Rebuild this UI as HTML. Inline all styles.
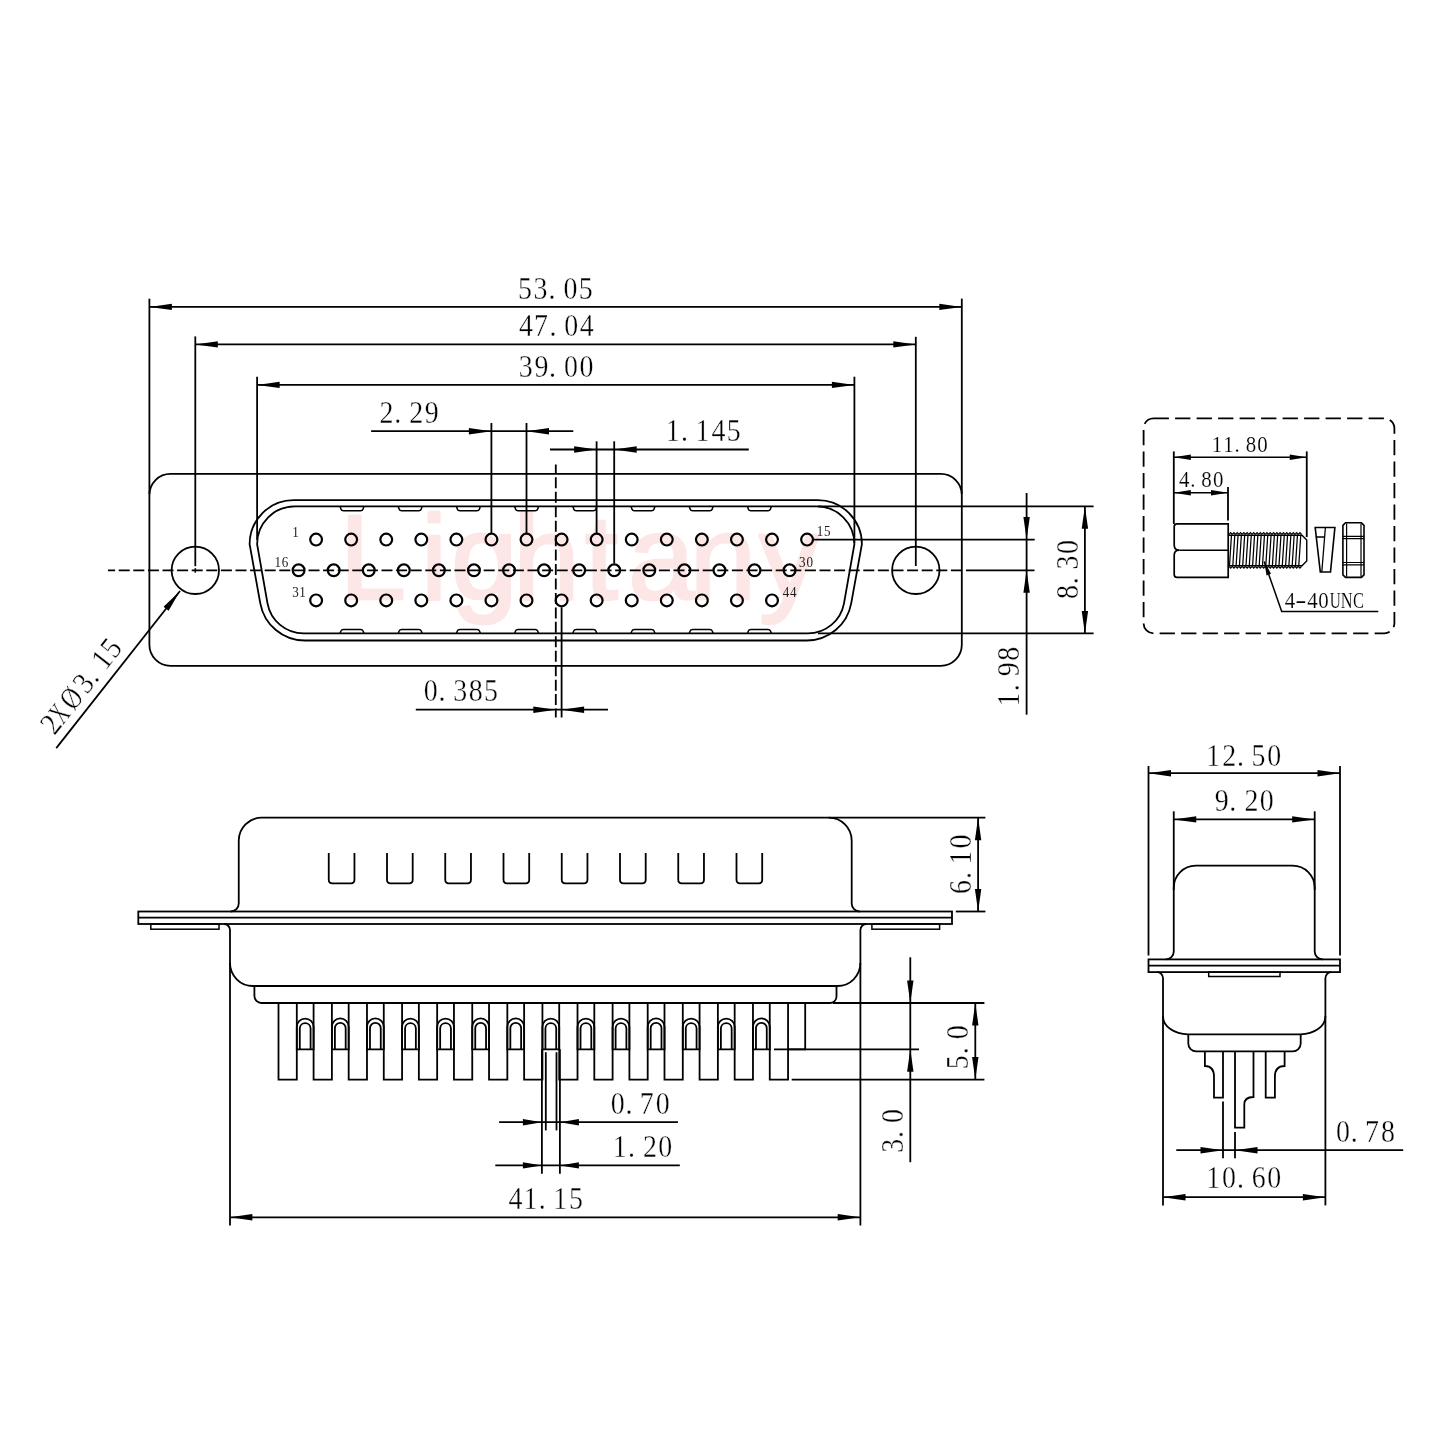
<!DOCTYPE html>
<html><head><meta charset="utf-8"><style>
html,body{margin:0;padding:0;background:#fff;}
svg{display:block;will-change:transform;}
text{font-family:"Liberation Serif",serif;stroke:#fff;stroke-width:0.35px;paint-order:normal;}
</style></head><body>
<svg width="1440" height="1440" viewBox="0 0 1440 1440">
<rect width="1440" height="1440" fill="#fff"/>
<g stroke="#000" fill="none" stroke-linecap="butt">
<text x="339.2 420.7 451 512.9 584.8 628.1 689.6 759" y="599" style="font-family:'Liberation Sans',sans-serif;stroke:#fde6e6;stroke-width:2.5px;stroke-linejoin:round" font-size="120" fill="#fde6e6">Lightany</text>
<rect x="149.4" y="473.9" width="812.4" height="191.9" rx="21" stroke-width="1.8"/>
<circle cx="195.3" cy="570.3" r="23.7" stroke-width="1.8"/>
<circle cx="915.8" cy="570.3" r="23.7" stroke-width="1.8"/>
<path d="M293.60,500.20 L817.90,500.20 A44.00,44.00 0 0 1 861.90,544.20 L851.20,603.30 A45.30,45.30 0 0 1 806.60,640.50 L304.90,640.50 A45.30,45.30 0 0 1 260.30,603.30 L249.60,544.20 A44.00,44.00 0 0 1 293.60,500.20 Z" stroke-width="1.8" fill="none" />
<path d="M295.00,506.30 L816.50,506.30 A37.90,37.90 0 0 1 854.40,544.20 L844.00,603.30 A36.70,36.70 0 0 1 807.90,633.40 L303.60,633.40 A36.70,36.70 0 0 1 267.50,603.30 L257.10,544.20 A37.90,37.90 0 0 1 295.00,506.30 Z" stroke-width="1.8" fill="none" />
<path d="M340.00,506.3 L341.00,509.3 Q341.50,510.8 343.50,510.8 L360.50,510.8 Q362.50,510.8 363.00,509.3 L364.00,506.3" stroke-width="1.5" fill="none" />
<path d="M340.00,633.4 L341.00,630.8 Q341.50,629.4 343.50,629.4 L360.50,629.4 Q362.50,629.4 363.00,630.8 L364.00,633.4" stroke-width="1.5" fill="none" />
<path d="M398.20,506.3 L399.20,509.3 Q399.70,510.8 401.70,510.8 L418.70,510.8 Q420.70,510.8 421.20,509.3 L422.20,506.3" stroke-width="1.5" fill="none" />
<path d="M398.20,633.4 L399.20,630.8 Q399.70,629.4 401.70,629.4 L418.70,629.4 Q420.70,629.4 421.20,630.8 L422.20,633.4" stroke-width="1.5" fill="none" />
<path d="M456.40,506.3 L457.40,509.3 Q457.90,510.8 459.90,510.8 L476.90,510.8 Q478.90,510.8 479.40,509.3 L480.40,506.3" stroke-width="1.5" fill="none" />
<path d="M456.40,633.4 L457.40,630.8 Q457.90,629.4 459.90,629.4 L476.90,629.4 Q478.90,629.4 479.40,630.8 L480.40,633.4" stroke-width="1.5" fill="none" />
<path d="M514.60,506.3 L515.60,509.3 Q516.10,510.8 518.10,510.8 L535.10,510.8 Q537.10,510.8 537.60,509.3 L538.60,506.3" stroke-width="1.5" fill="none" />
<path d="M514.60,633.4 L515.60,630.8 Q516.10,629.4 518.10,629.4 L535.10,629.4 Q537.10,629.4 537.60,630.8 L538.60,633.4" stroke-width="1.5" fill="none" />
<path d="M572.80,506.3 L573.80,509.3 Q574.30,510.8 576.30,510.8 L593.30,510.8 Q595.30,510.8 595.80,509.3 L596.80,506.3" stroke-width="1.5" fill="none" />
<path d="M572.80,633.4 L573.80,630.8 Q574.30,629.4 576.30,629.4 L593.30,629.4 Q595.30,629.4 595.80,630.8 L596.80,633.4" stroke-width="1.5" fill="none" />
<path d="M631.00,506.3 L632.00,509.3 Q632.50,510.8 634.50,510.8 L651.50,510.8 Q653.50,510.8 654.00,509.3 L655.00,506.3" stroke-width="1.5" fill="none" />
<path d="M631.00,633.4 L632.00,630.8 Q632.50,629.4 634.50,629.4 L651.50,629.4 Q653.50,629.4 654.00,630.8 L655.00,633.4" stroke-width="1.5" fill="none" />
<path d="M689.20,506.3 L690.20,509.3 Q690.70,510.8 692.70,510.8 L709.70,510.8 Q711.70,510.8 712.20,509.3 L713.20,506.3" stroke-width="1.5" fill="none" />
<path d="M689.20,633.4 L690.20,630.8 Q690.70,629.4 692.70,629.4 L709.70,629.4 Q711.70,629.4 712.20,630.8 L713.20,633.4" stroke-width="1.5" fill="none" />
<path d="M747.40,506.3 L748.40,509.3 Q748.90,510.8 750.90,510.8 L767.90,510.8 Q769.90,510.8 770.40,509.3 L771.40,506.3" stroke-width="1.5" fill="none" />
<path d="M747.40,633.4 L748.40,630.8 Q748.90,629.4 750.90,629.4 L767.90,629.4 Q769.90,629.4 770.40,630.8 L771.40,633.4" stroke-width="1.5" fill="none" />
<circle cx="316.10" cy="539.6" r="5.9" stroke-width="2.2"/>
<circle cx="298.60" cy="570.3" r="5.9" stroke-width="2.2"/>
<circle cx="351.17" cy="539.6" r="5.9" stroke-width="2.2"/>
<circle cx="333.67" cy="570.3" r="5.9" stroke-width="2.2"/>
<circle cx="386.24" cy="539.6" r="5.9" stroke-width="2.2"/>
<circle cx="368.74" cy="570.3" r="5.9" stroke-width="2.2"/>
<circle cx="421.31" cy="539.6" r="5.9" stroke-width="2.2"/>
<circle cx="403.81" cy="570.3" r="5.9" stroke-width="2.2"/>
<circle cx="456.38" cy="539.6" r="5.9" stroke-width="2.2"/>
<circle cx="438.88" cy="570.3" r="5.9" stroke-width="2.2"/>
<circle cx="491.45" cy="539.6" r="5.9" stroke-width="2.2"/>
<circle cx="473.95" cy="570.3" r="5.9" stroke-width="2.2"/>
<circle cx="526.52" cy="539.6" r="5.9" stroke-width="2.2"/>
<circle cx="509.02" cy="570.3" r="5.9" stroke-width="2.2"/>
<circle cx="561.59" cy="539.6" r="5.9" stroke-width="2.2"/>
<circle cx="544.09" cy="570.3" r="5.9" stroke-width="2.2"/>
<circle cx="596.66" cy="539.6" r="5.9" stroke-width="2.2"/>
<circle cx="579.16" cy="570.3" r="5.9" stroke-width="2.2"/>
<circle cx="631.73" cy="539.6" r="5.9" stroke-width="2.2"/>
<circle cx="614.23" cy="570.3" r="5.9" stroke-width="2.2"/>
<circle cx="666.80" cy="539.6" r="5.9" stroke-width="2.2"/>
<circle cx="649.30" cy="570.3" r="5.9" stroke-width="2.2"/>
<circle cx="701.87" cy="539.6" r="5.9" stroke-width="2.2"/>
<circle cx="684.37" cy="570.3" r="5.9" stroke-width="2.2"/>
<circle cx="736.94" cy="539.6" r="5.9" stroke-width="2.2"/>
<circle cx="719.44" cy="570.3" r="5.9" stroke-width="2.2"/>
<circle cx="772.01" cy="539.6" r="5.9" stroke-width="2.2"/>
<circle cx="754.51" cy="570.3" r="5.9" stroke-width="2.2"/>
<circle cx="807.08" cy="539.6" r="5.9" stroke-width="2.2"/>
<circle cx="789.58" cy="570.3" r="5.9" stroke-width="2.2"/>
<circle cx="316.10" cy="600.4" r="5.9" stroke-width="2.2"/>
<circle cx="351.17" cy="600.4" r="5.9" stroke-width="2.2"/>
<circle cx="386.24" cy="600.4" r="5.9" stroke-width="2.2"/>
<circle cx="421.31" cy="600.4" r="5.9" stroke-width="2.2"/>
<circle cx="456.38" cy="600.4" r="5.9" stroke-width="2.2"/>
<circle cx="491.45" cy="600.4" r="5.9" stroke-width="2.2"/>
<circle cx="526.52" cy="600.4" r="5.9" stroke-width="2.2"/>
<circle cx="561.59" cy="600.4" r="5.9" stroke-width="2.2"/>
<circle cx="596.66" cy="600.4" r="5.9" stroke-width="2.2"/>
<circle cx="631.73" cy="600.4" r="5.9" stroke-width="2.2"/>
<circle cx="666.80" cy="600.4" r="5.9" stroke-width="2.2"/>
<circle cx="701.87" cy="600.4" r="5.9" stroke-width="2.2"/>
<circle cx="736.94" cy="600.4" r="5.9" stroke-width="2.2"/>
<circle cx="772.01" cy="600.4" r="5.9" stroke-width="2.2"/>
<text transform="translate(293.30,536.70) scale(0.9,1)" x="2.35" y="0" font-size="14.5" text-anchor="middle" fill="#1a1a1a" style="stroke-width:0px">1</text>
<text transform="translate(275.60,566.70) scale(0.9,1)" x="2.35 10.51" y="0" font-size="14.5" text-anchor="middle" fill="#1a1a1a" style="stroke-width:0px">16</text>
<text transform="translate(292.80,597.20) scale(0.9,1)" x="2.93 10.85" y="0" font-size="14.5" text-anchor="middle" fill="#1a1a1a" style="stroke-width:0px">31</text>
<text transform="translate(817.80,536.40) scale(0.9,1)" x="2.35 10.47" y="0" font-size="14.5" text-anchor="middle" fill="#1a1a1a" style="stroke-width:0px">15</text>
<text transform="translate(799.70,567.00) scale(0.9,1)" x="2.93 11.05" y="0" font-size="14.5" text-anchor="middle" fill="#1a1a1a" style="stroke-width:0px">30</text>
<text transform="translate(783.00,596.80) scale(0.9,1)" x="3.34 11.40" y="0" font-size="14.5" text-anchor="middle" fill="#1a1a1a" style="stroke-width:0px">44</text>
<line x1="108.00" y1="570.30" x2="961.50" y2="570.30" stroke-width="1.8" stroke-dasharray="11 3.6" stroke-dashoffset="3.9"/>
<line x1="966.00" y1="570.30" x2="1034.50" y2="570.30" stroke-width="1.8" />
<line x1="555.80" y1="464.40" x2="555.80" y2="717.50" stroke-width="1.8" stroke-dasharray="11 3.45" stroke-dashoffset="1.5"/>
<line x1="149.40" y1="298.70" x2="149.40" y2="494.00" stroke-width="1.8" />
<line x1="961.80" y1="298.60" x2="961.80" y2="494.00" stroke-width="1.8" />
<line x1="195.30" y1="336.40" x2="195.30" y2="566.20" stroke-width="1.8" />
<line x1="195.30" y1="568.20" x2="195.30" y2="572.60" stroke-width="1.6" />
<line x1="915.80" y1="336.80" x2="915.80" y2="566.00" stroke-width="1.8" />
<line x1="257.10" y1="376.70" x2="257.10" y2="540.00" stroke-width="1.8" />
<line x1="854.40" y1="376.70" x2="854.40" y2="543.00" stroke-width="1.8" />
<line x1="149.40" y1="306.90" x2="961.80" y2="306.90" stroke-width="1.8" />
<path d="M149.40,306.90 L171.90,303.70 L171.90,310.10 Z" fill="#000" stroke="none"/>
<path d="M961.80,306.90 L939.30,310.10 L939.30,303.70 Z" fill="#000" stroke="none"/>
<line x1="195.30" y1="344.40" x2="915.80" y2="344.40" stroke-width="1.8" />
<path d="M195.30,344.40 L217.80,341.20 L217.80,347.60 Z" fill="#000" stroke="none"/>
<path d="M915.80,344.40 L893.30,347.60 L893.30,341.20 Z" fill="#000" stroke="none"/>
<line x1="257.10" y1="384.90" x2="854.40" y2="384.90" stroke-width="1.8" />
<path d="M257.10,384.90 L279.60,381.70 L279.60,388.10 Z" fill="#000" stroke="none"/>
<path d="M854.40,384.90 L831.90,388.10 L831.90,381.70 Z" fill="#000" stroke="none"/>
<text transform="translate(519.60,298.50) scale(0.9,1)" x="5.95 23.33 36.02 56.47 73.39" y="0" font-size="31" text-anchor="middle" fill="#000" style="stroke-width:0.35px">53.05</text>
<text transform="translate(519.60,336.20) scale(0.9,1)" x="7.14 23.85 36.98 57.43 74.59" y="0" font-size="31" text-anchor="middle" fill="#000" style="stroke-width:0.35px">47.04</text>
<text transform="translate(520.00,376.50) scale(0.9,1)" x="6.27 23.76 36.18 56.63 73.85" y="0" font-size="31" text-anchor="middle" fill="#000" style="stroke-width:0.35px">39.00</text>
<line x1="491.40" y1="423.00" x2="491.40" y2="533.00" stroke-width="1.8" />
<line x1="526.50" y1="423.00" x2="526.50" y2="533.00" stroke-width="1.8" />
<line x1="371.10" y1="431.20" x2="573.30" y2="431.20" stroke-width="1.8" />
<path d="M491.40,431.20 L468.90,434.40 L468.90,428.00 Z" fill="#000" stroke="none"/>
<path d="M526.50,431.20 L549.00,428.00 L549.00,434.40 Z" fill="#000" stroke="none"/>
<text transform="translate(380.80,422.80) scale(0.9,1)" x="6.39 18.77 39.39 56.57" y="0" font-size="31" text-anchor="middle" fill="#000" style="stroke-width:0.35px">2.29</text>
<line x1="596.60" y1="441.30" x2="596.60" y2="533.00" stroke-width="1.8" />
<line x1="614.20" y1="441.30" x2="614.20" y2="563.50" stroke-width="1.8" />
<line x1="550.00" y1="449.50" x2="748.80" y2="449.50" stroke-width="1.8" />
<path d="M596.60,449.50 L574.10,452.70 L574.10,446.30 Z" fill="#000" stroke="none"/>
<path d="M614.20,449.50 L636.70,446.30 L636.70,452.70 Z" fill="#000" stroke="none"/>
<text transform="translate(668.30,441.30) scale(0.9,1)" x="5.03 18.01 38.03 55.62 72.61" y="0" font-size="31" text-anchor="middle" fill="#000" style="stroke-width:0.35px">1.145</text>
<line x1="561.60" y1="607.30" x2="561.60" y2="717.50" stroke-width="1.8" />
<line x1="415.80" y1="709.70" x2="608.00" y2="709.70" stroke-width="1.8" />
<path d="M555.80,709.70 L533.30,712.90 L533.30,706.50 Z" fill="#000" stroke="none"/>
<path d="M561.60,709.70 L584.10,706.50 L584.10,712.90 Z" fill="#000" stroke="none"/>
<text transform="translate(424.70,701.10) scale(0.9,1)" x="6.57 19.12 39.43 56.79 73.72" y="0" font-size="31" text-anchor="middle" fill="#000" style="stroke-width:0.35px">0.385</text>
<line x1="818.00" y1="506.30" x2="1093.60" y2="506.30" stroke-width="1.8" />
<line x1="818.00" y1="633.40" x2="1093.60" y2="633.40" stroke-width="1.8" />
<line x1="1084.90" y1="506.30" x2="1084.90" y2="633.40" stroke-width="1.8" />
<path d="M1084.90,506.30 L1088.10,528.80 L1081.70,528.80 Z" fill="#000" stroke="none"/>
<path d="M1084.90,633.40 L1081.70,610.90 L1088.10,610.90 Z" fill="#000" stroke="none"/>
<text transform="translate(1077.70,598.00) rotate(-90) scale(0.9,1)" x="6.57 19.12 39.43 56.79" y="0" font-size="31" text-anchor="middle" fill="#000" style="stroke-width:0.35px">8.30</text>
<text transform="translate(1018.70,704.00) rotate(-90) scale(0.9,1)" x="5.03 18.01 38.59 55.68" y="0" font-size="31" text-anchor="middle" fill="#000" style="stroke-width:0.35px">1.98</text>
<line x1="813.00" y1="539.60" x2="1034.70" y2="539.60" stroke-width="1.8" />
<line x1="1026.60" y1="493.00" x2="1026.60" y2="714.70" stroke-width="1.8" />
<path d="M1026.60,539.60 L1023.40,517.10 L1029.80,517.10 Z" fill="#000" stroke="none"/>
<path d="M1026.60,570.30 L1029.80,592.80 L1023.40,592.80 Z" fill="#000" stroke="none"/>
<line x1="56.25" y1="748.10" x2="180.00" y2="591.00" stroke-width="1.8" />
<path d="M180.00,591.00 L168.59,610.66 L163.56,606.69 Z" fill="#000" stroke="none"/>
<text transform="translate(62.85,740) rotate(-51.77) translate(4.9,-9) scale(0.9,1)" x="0.17" y="0" font-size="31" text-anchor="middle" fill="#000" stroke="none">2</text>
<text transform="translate(62.85,740) rotate(-51.77) translate(18.7,-9) scale(0.62,1)" x="-0.06" y="0" font-size="31" text-anchor="middle" fill="#000" stroke="none">X</text>
<text transform="translate(62.85,740) rotate(-51.77) translate(38.1,-9) scale(0.8,1)" x="-0.00" y="0" font-size="31" text-anchor="middle" fill="#000" stroke="none">Ø</text>
<text transform="translate(62.85,740) rotate(-51.77) translate(57.4,-9) scale(0.9,1)" x="-0.14" y="0" font-size="31" text-anchor="middle" fill="#000" stroke="none">3</text>
<text transform="translate(62.85,740) rotate(-51.77) translate(68.4,-9) scale(0.9,1)" x="-0.00" y="0" font-size="31" text-anchor="middle" fill="#000" stroke="none">.</text>
<text transform="translate(62.85,740) rotate(-51.77) translate(87.7,-9) scale(0.9,1)" x="-0.43" y="0" font-size="31" text-anchor="middle" fill="#000" stroke="none">1</text>
<text transform="translate(62.85,740) rotate(-51.77) translate(102.5,-9) scale(0.9,1)" x="-0.30" y="0" font-size="31" text-anchor="middle" fill="#000" stroke="none">5</text>
<rect x="1143.6" y="418.3" width="250.8" height="215.0" rx="10" stroke-width="1.8" stroke-dasharray="15.3 6.2" stroke-dashoffset="0"/>
<line x1="1173.80" y1="451.40" x2="1173.80" y2="524.00" stroke-width="1.8" />
<line x1="1306.75" y1="451.40" x2="1306.75" y2="537.00" stroke-width="1.8" />
<line x1="1228.00" y1="486.90" x2="1228.00" y2="520.40" stroke-width="1.8" />
<line x1="1173.80" y1="457.30" x2="1306.75" y2="457.30" stroke-width="1.5" />
<path d="M1173.80,457.30 L1190.80,454.60 L1190.80,460.00 Z" fill="#000" stroke="none"/>
<path d="M1306.75,457.30 L1289.75,460.00 L1289.75,454.60 Z" fill="#000" stroke="none"/>
<line x1="1173.80" y1="492.80" x2="1228.00" y2="492.80" stroke-width="1.5" />
<path d="M1173.80,492.80 L1190.80,490.10 L1190.80,495.50 Z" fill="#000" stroke="none"/>
<path d="M1228.00,492.80 L1211.00,495.50 L1211.00,490.10 Z" fill="#000" stroke="none"/>
<text transform="translate(1213.50,451.80) scale(0.9,1)" x="3.76 16.65 26.37 41.67 54.56" y="0" font-size="23.2" text-anchor="middle" fill="#000" style="stroke-width:0.15px">11.80</text>
<text transform="translate(1179.50,486.90) scale(0.9,1)" x="5.35 14.79 30.09 42.98" y="0" font-size="23.2" text-anchor="middle" fill="#000" style="stroke-width:0.15px">4.80</text>
<text transform="translate(1290.00,607.90) scale(0.9,1)" x="-0.05" y="0" font-size="23.2" text-anchor="middle" fill="#000" style="stroke-width:0.15px">4</text>
<text transform="translate(1300.80,607.90) scale(1.45,1)" x="-0.01" y="0" font-size="23.2" text-anchor="middle" fill="#000" style="stroke-width:0.15px">-</text>
<text transform="translate(1312.60,607.90) scale(0.9,1)" x="-0.05" y="0" font-size="23.2" text-anchor="middle" fill="#000" style="stroke-width:0.15px">4</text>
<text transform="translate(1323.40,607.90) scale(0.9,1)" x="-0.00" y="0" font-size="23.2" text-anchor="middle" fill="#000" style="stroke-width:0.15px">0</text>
<text transform="translate(1335.20,607.90) scale(0.66,1)" x="-0.00" y="0" font-size="23.2" text-anchor="middle" fill="#000" style="stroke-width:0.15px">U</text>
<text transform="translate(1346.70,607.90) scale(0.71,1)" x="-0.07" y="0" font-size="23.2" text-anchor="middle" fill="#000" style="stroke-width:0.15px">N</text>
<text transform="translate(1358.30,607.90) scale(0.71,1)" x="0.16" y="0" font-size="23.2" text-anchor="middle" fill="#000" style="stroke-width:0.15px">C</text>
<path d="M1177,523.9 L1228.2,523.9 L1228.2,577.4 L1177,577.4 Q1174.2,577.4 1174.2,574.6 L1174.2,555.2 Q1174.2,550.4 1179.2,550.2 Q1174.2,550 1174.2,545 L1174.2,526.7 Q1174.2,523.9 1177,523.9 Z" stroke-width="1.7" fill="none" />
<path d="M1179.2,550.2 L1228.2,550.2" stroke-width="1.6" fill="none" />
<path d="M1228.4,535.2 L1302,535.2 L1306.75,540 L1306.75,561 L1302,565.8 L1228.4,565.8" stroke-width="1.4" fill="none" />
<path d="M1229.50,565.5 L1231.50,534.6 M1232.80,565.5 L1234.80,534.6 M1236.10,565.5 L1238.10,534.6 M1239.40,565.5 L1241.40,534.6 M1242.70,565.5 L1244.70,534.6 M1246.00,565.5 L1248.00,534.6 M1249.30,565.5 L1251.30,534.6 M1252.60,565.5 L1254.60,534.6 M1255.90,565.5 L1257.90,534.6 M1259.20,565.5 L1261.20,534.6 M1262.50,565.5 L1264.50,534.6 M1265.80,565.5 L1267.80,534.6 M1269.10,565.5 L1271.10,534.6 M1272.40,565.5 L1274.40,534.6 M1275.70,565.5 L1277.70,534.6 M1279.00,565.5 L1281.00,534.6 M1282.30,565.5 L1284.30,534.6 M1285.60,565.5 L1287.60,534.6 M1288.90,565.5 L1290.90,534.6 M1292.20,565.5 L1294.20,534.6 M1295.50,565.5 L1297.50,534.6 M1298.80,565.5 L1300.80,534.6" stroke-width="1.25" fill="none" />
<path d="M1229.00,534.4 L1230.65,532.6 L1232.30,534.4 M1229.00,566.4 L1230.65,568.2 L1232.30,566.4 M1232.30,534.4 L1233.95,532.6 L1235.60,534.4 M1232.30,566.4 L1233.95,568.2 L1235.60,566.4 M1235.60,534.4 L1237.25,532.6 L1238.90,534.4 M1235.60,566.4 L1237.25,568.2 L1238.90,566.4 M1238.90,534.4 L1240.55,532.6 L1242.20,534.4 M1238.90,566.4 L1240.55,568.2 L1242.20,566.4 M1242.20,534.4 L1243.85,532.6 L1245.50,534.4 M1242.20,566.4 L1243.85,568.2 L1245.50,566.4 M1245.50,534.4 L1247.15,532.6 L1248.80,534.4 M1245.50,566.4 L1247.15,568.2 L1248.80,566.4 M1248.80,534.4 L1250.45,532.6 L1252.10,534.4 M1248.80,566.4 L1250.45,568.2 L1252.10,566.4 M1252.10,534.4 L1253.75,532.6 L1255.40,534.4 M1252.10,566.4 L1253.75,568.2 L1255.40,566.4 M1255.40,534.4 L1257.05,532.6 L1258.70,534.4 M1255.40,566.4 L1257.05,568.2 L1258.70,566.4 M1258.70,534.4 L1260.35,532.6 L1262.00,534.4 M1258.70,566.4 L1260.35,568.2 L1262.00,566.4 M1262.00,534.4 L1263.65,532.6 L1265.30,534.4 M1262.00,566.4 L1263.65,568.2 L1265.30,566.4 M1265.30,534.4 L1266.95,532.6 L1268.60,534.4 M1265.30,566.4 L1266.95,568.2 L1268.60,566.4 M1268.60,534.4 L1270.25,532.6 L1271.90,534.4 M1268.60,566.4 L1270.25,568.2 L1271.90,566.4 M1271.90,534.4 L1273.55,532.6 L1275.20,534.4 M1271.90,566.4 L1273.55,568.2 L1275.20,566.4 M1275.20,534.4 L1276.85,532.6 L1278.50,534.4 M1275.20,566.4 L1276.85,568.2 L1278.50,566.4 M1278.50,534.4 L1280.15,532.6 L1281.80,534.4 M1278.50,566.4 L1280.15,568.2 L1281.80,566.4 M1281.80,534.4 L1283.45,532.6 L1285.10,534.4 M1281.80,566.4 L1283.45,568.2 L1285.10,566.4 M1285.10,534.4 L1286.75,532.6 L1288.40,534.4 M1285.10,566.4 L1286.75,568.2 L1288.40,566.4 M1288.40,534.4 L1290.05,532.6 L1291.70,534.4 M1288.40,566.4 L1290.05,568.2 L1291.70,566.4 M1291.70,534.4 L1293.35,532.6 L1295.00,534.4 M1291.70,566.4 L1293.35,568.2 L1295.00,566.4 M1295.00,534.4 L1296.65,532.6 L1298.30,534.4 M1295.00,566.4 L1296.65,568.2 L1298.30,566.4 M1298.30,534.4 L1299.95,532.6 L1301.60,534.4 M1298.30,566.4 L1299.95,568.2 L1301.60,566.4" stroke-width="1.2" fill="none" />
<path d="M1315.2,527.5 L1334.9,527.5 L1330.5,572 L1320.3,572 Z" stroke-width="1.6" fill="none" />
<path d="M1315.8,537 L1324,537 M1325.4,527.5 L1321.8,572" stroke-width="1.3" fill="none" />
<path d="M1345.5,522.8 L1361.4,522.8 L1364,525.4 L1364,574.8 L1361.4,577.4 L1345.5,577.4 L1342.9,574.8 L1342.9,525.4 Z" stroke-width="1.6" fill="none" />
<path d="M1346.6,523.5 L1346.6,576.7 M1361,523.5 L1361,576.7 M1342.9,536.3 L1364,536.3 M1342.9,538.6 L1364,538.6 M1342.9,562.5 L1364,562.5 M1342.9,564.8 L1364,564.8" stroke-width="1.2" fill="none" />
<path d="M1264.2,561.4 L1281.7,611.4 L1378.3,611.4" stroke-width="1.5" fill="none" />
<path d="M1264.20,561.40 L1271.08,573.83 L1266.55,575.41 Z" fill="#000" stroke="none"/>
<path d="M230.75,911.5 A8,8 0 0 0 238.75,903.5 L238.75,840.7 A23,23 0 0 1 261.75,817.7 L828.7,817.7 A23,23 0 0 1 851.7,840.7 L851.7,903.5 A8,8 0 0 0 859.7,911.5" stroke-width="1.8" fill="none" />
<line x1="828.70" y1="817.70" x2="985.40" y2="817.70" stroke-width="1.8" />
<rect x="138.3" y="911.5" width="813.7" height="12.5" stroke-width="1.8"/>
<line x1="138.30" y1="917.70" x2="952.00" y2="917.70" stroke-width="1.8" />
<rect x="150.8" y="924" width="68.2" height="5.2" stroke-width="1.5"/>
<rect x="871.9" y="924" width="67.7" height="5.2" stroke-width="1.5"/>
<path d="M328.75,853 L328.75,879.8 Q328.75,883.3 332.25,883.3 L350.95,883.3 Q354.45,883.3 354.45,879.8 L354.45,853" stroke-width="1.8" fill="none" />
<path d="M387.00,853 L387.00,879.8 Q387.00,883.3 390.50,883.3 L409.20,883.3 Q412.70,883.3 412.70,879.8 L412.70,853" stroke-width="1.8" fill="none" />
<path d="M445.25,853 L445.25,879.8 Q445.25,883.3 448.75,883.3 L467.45,883.3 Q470.95,883.3 470.95,879.8 L470.95,853" stroke-width="1.8" fill="none" />
<path d="M503.50,853 L503.50,879.8 Q503.50,883.3 507.00,883.3 L525.70,883.3 Q529.20,883.3 529.20,879.8 L529.20,853" stroke-width="1.8" fill="none" />
<path d="M561.75,853 L561.75,879.8 Q561.75,883.3 565.25,883.3 L583.95,883.3 Q587.45,883.3 587.45,879.8 L587.45,853" stroke-width="1.8" fill="none" />
<path d="M620.00,853 L620.00,879.8 Q620.00,883.3 623.50,883.3 L642.20,883.3 Q645.70,883.3 645.70,879.8 L645.70,853" stroke-width="1.8" fill="none" />
<path d="M678.25,853 L678.25,879.8 Q678.25,883.3 681.75,883.3 L700.45,883.3 Q703.95,883.3 703.95,879.8 L703.95,853" stroke-width="1.8" fill="none" />
<path d="M736.50,853 L736.50,879.8 Q736.50,883.3 740.00,883.3 L758.70,883.3 Q762.20,883.3 762.20,879.8 L762.20,853" stroke-width="1.8" fill="none" />
<path d="M224,924 A6,6 0 0 1 230,930 L230,963 A23,23 0 0 0 253,986 L837.4,986 A23,23 0 0 0 860.4,963 L860.4,930 A6,6 0 0 1 866.4,924" stroke-width="1.8" fill="none" />
<path d="M254.4,986 L254.4,996 A7,7 0 0 0 261.4,1003 L830,1003 A6.5,6.5 0 0 0 836.5,996.5 L836.5,986" stroke-width="1.8" fill="none" />
<line x1="230.00" y1="963.00" x2="230.00" y2="1225.40" stroke-width="1.8" />
<line x1="860.40" y1="963.00" x2="860.40" y2="1225.60" stroke-width="1.8" />
<path d="M278.50,1003 L278.50,1079.6 L296.80,1079.6 L296.80,1003" stroke-width="1.8" fill="none" />
<path d="M313.59,1003 L313.59,1079.6 L331.89,1079.6 L331.89,1003" stroke-width="1.8" fill="none" />
<path d="M348.68,1003 L348.68,1079.6 L366.98,1079.6 L366.98,1003" stroke-width="1.8" fill="none" />
<path d="M383.77,1003 L383.77,1079.6 L402.07,1079.6 L402.07,1003" stroke-width="1.8" fill="none" />
<path d="M418.86,1003 L418.86,1079.6 L437.16,1079.6 L437.16,1003" stroke-width="1.8" fill="none" />
<path d="M453.95,1003 L453.95,1079.6 L472.25,1079.6 L472.25,1003" stroke-width="1.8" fill="none" />
<path d="M489.04,1003 L489.04,1079.6 L507.34,1079.6 L507.34,1003" stroke-width="1.8" fill="none" />
<path d="M524.13,1003 L524.13,1079.6 L542.43,1079.6 L542.43,1003" stroke-width="1.8" fill="none" />
<path d="M559.22,1003 L559.22,1079.6 L577.52,1079.6 L577.52,1003" stroke-width="1.8" fill="none" />
<path d="M594.31,1003 L594.31,1079.6 L612.61,1079.6 L612.61,1003" stroke-width="1.8" fill="none" />
<path d="M629.40,1003 L629.40,1079.6 L647.70,1079.6 L647.70,1003" stroke-width="1.8" fill="none" />
<path d="M664.49,1003 L664.49,1079.6 L682.79,1079.6 L682.79,1003" stroke-width="1.8" fill="none" />
<path d="M699.58,1003 L699.58,1079.6 L717.88,1079.6 L717.88,1003" stroke-width="1.8" fill="none" />
<path d="M734.67,1003 L734.67,1079.6 L752.97,1079.6 L752.97,1003" stroke-width="1.8" fill="none" />
<path d="M769.76,1003 L769.76,1079.6 L788.06,1079.6 L788.06,1003" stroke-width="1.8" fill="none" />
<path d="M296.80,1049.3 L296.80,1026.70 A8.40,8.40 0 0 1 313.59,1026.7 L313.59,1049.3 Z" stroke-width="1.8" fill="none" />
<path d="M299.80,1049.3 L299.80,1028.3 A5.40,5.40 0 0 1 310.59,1028.3 L310.59,1049.3" stroke-width="1.8" fill="none" />
<path d="M331.89,1049.3 L331.89,1026.70 A8.39,8.39 0 0 1 348.68,1026.7 L348.68,1049.3 Z" stroke-width="1.8" fill="none" />
<path d="M334.89,1049.3 L334.89,1028.3 A5.39,5.39 0 0 1 345.68,1028.3 L345.68,1049.3" stroke-width="1.8" fill="none" />
<path d="M366.98,1049.3 L366.98,1026.70 A8.39,8.39 0 0 1 383.77,1026.7 L383.77,1049.3 Z" stroke-width="1.8" fill="none" />
<path d="M369.98,1049.3 L369.98,1028.3 A5.39,5.39 0 0 1 380.77,1028.3 L380.77,1049.3" stroke-width="1.8" fill="none" />
<path d="M402.07,1049.3 L402.07,1026.70 A8.40,8.40 0 0 1 418.86,1026.7 L418.86,1049.3 Z" stroke-width="1.8" fill="none" />
<path d="M405.07,1049.3 L405.07,1028.3 A5.40,5.40 0 0 1 415.86,1028.3 L415.86,1049.3" stroke-width="1.8" fill="none" />
<path d="M437.16,1049.3 L437.16,1026.70 A8.40,8.40 0 0 1 453.95,1026.7 L453.95,1049.3 Z" stroke-width="1.8" fill="none" />
<path d="M440.16,1049.3 L440.16,1028.3 A5.40,5.40 0 0 1 450.95,1028.3 L450.95,1049.3" stroke-width="1.8" fill="none" />
<path d="M472.25,1049.3 L472.25,1026.70 A8.39,8.39 0 0 1 489.04,1026.7 L489.04,1049.3 Z" stroke-width="1.8" fill="none" />
<path d="M475.25,1049.3 L475.25,1028.3 A5.39,5.39 0 0 1 486.04,1028.3 L486.04,1049.3" stroke-width="1.8" fill="none" />
<path d="M507.34,1049.3 L507.34,1026.70 A8.39,8.39 0 0 1 524.13,1026.7 L524.13,1049.3 Z" stroke-width="1.8" fill="none" />
<path d="M510.34,1049.3 L510.34,1028.3 A5.39,5.39 0 0 1 521.13,1028.3 L521.13,1049.3" stroke-width="1.8" fill="none" />
<path d="M542.43,1049.3 L542.43,1026.70 A8.40,8.40 0 0 1 559.22,1026.7 L559.22,1049.3 Z" stroke-width="1.8" fill="none" />
<path d="M545.43,1049.3 L545.43,1028.3 A5.40,5.40 0 0 1 556.22,1028.3 L556.22,1049.3" stroke-width="1.8" fill="none" />
<path d="M577.52,1049.3 L577.52,1026.70 A8.40,8.40 0 0 1 594.31,1026.7 L594.31,1049.3 Z" stroke-width="1.8" fill="none" />
<path d="M580.52,1049.3 L580.52,1028.3 A5.40,5.40 0 0 1 591.31,1028.3 L591.31,1049.3" stroke-width="1.8" fill="none" />
<path d="M612.61,1049.3 L612.61,1026.70 A8.40,8.40 0 0 1 629.40,1026.7 L629.40,1049.3 Z" stroke-width="1.8" fill="none" />
<path d="M615.61,1049.3 L615.61,1028.3 A5.40,5.40 0 0 1 626.40,1028.3 L626.40,1049.3" stroke-width="1.8" fill="none" />
<path d="M647.70,1049.3 L647.70,1026.70 A8.39,8.39 0 0 1 664.49,1026.7 L664.49,1049.3 Z" stroke-width="1.8" fill="none" />
<path d="M650.70,1049.3 L650.70,1028.3 A5.39,5.39 0 0 1 661.49,1028.3 L661.49,1049.3" stroke-width="1.8" fill="none" />
<path d="M682.79,1049.3 L682.79,1026.70 A8.40,8.40 0 0 1 699.58,1026.7 L699.58,1049.3 Z" stroke-width="1.8" fill="none" />
<path d="M685.79,1049.3 L685.79,1028.3 A5.40,5.40 0 0 1 696.58,1028.3 L696.58,1049.3" stroke-width="1.8" fill="none" />
<path d="M717.88,1049.3 L717.88,1026.70 A8.40,8.40 0 0 1 734.67,1026.7 L734.67,1049.3 Z" stroke-width="1.8" fill="none" />
<path d="M720.88,1049.3 L720.88,1028.3 A5.40,5.40 0 0 1 731.67,1028.3 L731.67,1049.3" stroke-width="1.8" fill="none" />
<path d="M752.97,1049.3 L752.97,1026.70 A8.39,8.39 0 0 1 769.76,1026.7 L769.76,1049.3 Z" stroke-width="1.8" fill="none" />
<path d="M755.97,1049.3 L755.97,1028.3 A5.39,5.39 0 0 1 766.76,1028.3 L766.76,1049.3" stroke-width="1.8" fill="none" />
<path d="M788.06,1049.3 L805.2,1049.3 L805.2,1003" stroke-width="1.8" fill="none" />
<line x1="541.90" y1="1049.30" x2="541.90" y2="1173.70" stroke-width="1.8" />
<line x1="559.90" y1="1049.30" x2="559.90" y2="1173.70" stroke-width="1.8" />
<line x1="545.80" y1="1052.20" x2="545.80" y2="1130.40" stroke-width="1.8" />
<line x1="556.50" y1="1052.20" x2="556.50" y2="1130.40" stroke-width="1.8" />
<line x1="833.00" y1="1003.00" x2="984.40" y2="1003.00" stroke-width="1.8" />
<line x1="774.00" y1="1049.30" x2="919.00" y2="1049.30" stroke-width="1.8" />
<line x1="791.70" y1="1079.60" x2="984.40" y2="1079.60" stroke-width="1.8" />
<line x1="955.80" y1="911.50" x2="985.40" y2="911.50" stroke-width="1.8" />
<line x1="978.10" y1="817.70" x2="978.10" y2="911.50" stroke-width="1.8" />
<path d="M978.10,817.70 L981.30,840.20 L974.90,840.20 Z" fill="#000" stroke="none"/>
<path d="M978.10,911.50 L974.90,889.00 L981.30,889.00 Z" fill="#000" stroke="none"/>
<text transform="translate(970.80,892.70) rotate(-90) scale(0.9,1)" x="6.42 19.18 39.19 56.84" y="0" font-size="31" text-anchor="middle" fill="#000" style="stroke-width:0.35px">6.10</text>
<line x1="910.30" y1="957.30" x2="910.30" y2="1162.20" stroke-width="1.8" />
<path d="M910.30,1003.00 L907.10,980.50 L913.50,980.50 Z" fill="#000" stroke="none"/>
<path d="M910.30,1049.30 L913.50,1071.80 L907.10,1071.80 Z" fill="#000" stroke="none"/>
<text transform="translate(903.00,1151.50) rotate(-90) scale(0.9,1)" x="6.27 18.96 39.40" y="0" font-size="31" text-anchor="middle" fill="#000" style="stroke-width:0.35px">3.0</text>
<line x1="975.30" y1="1003.00" x2="975.30" y2="1079.60" stroke-width="1.8" />
<path d="M975.30,1003.00 L978.50,1025.50 L972.10,1025.50 Z" fill="#000" stroke="none"/>
<path d="M975.30,1079.60 L972.10,1057.10 L978.50,1057.10 Z" fill="#000" stroke="none"/>
<text transform="translate(967.70,1067.70) rotate(-90) scale(0.9,1)" x="5.95 18.80 39.24" y="0" font-size="31" text-anchor="middle" fill="#000" style="stroke-width:0.35px">5.0</text>
<line x1="499.10" y1="1122.20" x2="677.90" y2="1122.20" stroke-width="1.8" />
<path d="M541.90,1122.20 L522.90,1125.40 L522.90,1119.00 Z" fill="#000" stroke="none"/>
<path d="M559.90,1122.20 L578.90,1119.00 L578.90,1125.40 Z" fill="#000" stroke="none"/>
<text transform="translate(611.70,1114.30) scale(0.9,1)" x="6.57 19.12 38.99 56.79" y="0" font-size="31" text-anchor="middle" fill="#000" style="stroke-width:0.35px">0.70</text>
<line x1="495.30" y1="1165.40" x2="679.80" y2="1165.40" stroke-width="1.8" />
<path d="M541.90,1165.40 L522.90,1168.60 L522.90,1162.20 Z" fill="#000" stroke="none"/>
<path d="M559.90,1165.40 L578.90,1162.20 L578.90,1168.60 Z" fill="#000" stroke="none"/>
<text transform="translate(615.20,1157.00) scale(0.9,1)" x="5.03 18.01 38.63 55.68" y="0" font-size="31" text-anchor="middle" fill="#000" style="stroke-width:0.35px">1.20</text>
<line x1="229.90" y1="1217.30" x2="860.20" y2="1217.30" stroke-width="1.8" />
<path d="M229.90,1217.30 L252.40,1214.10 L252.40,1220.50 Z" fill="#000" stroke="none"/>
<path d="M860.20,1217.30 L837.70,1220.50 L837.70,1214.10 Z" fill="#000" stroke="none"/>
<text transform="translate(509.00,1209.10) scale(0.9,1)" x="7.14 24.00 36.98 57.00 74.35" y="0" font-size="31" text-anchor="middle" fill="#000" style="stroke-width:0.35px">41.15</text>
<path d="M1165.75,959.4 A8,8 0 0 0 1173.75,951.4 L1173.75,887.7 A22,22 0 0 1 1195.75,865.7 L1292.7,865.7 A22,22 0 0 1 1314.7,887.7 L1314.7,951.4 A8,8 0 0 0 1322.7,959.4" stroke-width="1.8" fill="none" />
<rect x="1148.5" y="959.4" width="191.5" height="12.7" stroke-width="1.8"/>
<line x1="1148.50" y1="965.70" x2="1340.00" y2="965.70" stroke-width="1.8" />
<rect x="1208.7" y="972.1" width="71.3" height="4.4" stroke-width="1.5"/>
<path d="M1157,972.1 A6,6 0 0 1 1163,978.1 L1163,1016.4 A25,18 0 0 0 1188,1034.3 L1300.4,1034.3 A25,18 0 0 0 1325.4,1016.4 L1325.4,978.1 A6,6 0 0 1 1331.4,972.1" stroke-width="1.8" fill="none" />
<path d="M1188.3,1034.3 L1188.3,1043.4 A8,8 0 0 0 1196.3,1051.4 L1292.7,1051.4 A8,8 0 0 0 1300.7,1043.4 L1300.7,1034.3" stroke-width="1.8" fill="none" />
<path d="M1204.9,1051.4 L1204.9,1066 Q1214,1066 1214,1076.7 L1214,1097.7 L1223,1097.7 L1223,1051.4" stroke-width="1.8" fill="none" />
<path d="M1235,1051.4 L1235,1127.6 L1244.3,1127.6 L1244.3,1104.5 Q1244.3,1097 1253.5,1097 L1253.5,1051.4" stroke-width="1.8" fill="none" />
<path d="M1265.7,1051.4 L1265.7,1097.7 L1274.9,1097.7 L1274.9,1076.7 Q1274.9,1066 1284.6,1066 L1284.6,1051.4" stroke-width="1.8" fill="none" />
<line x1="1148.50" y1="766.00" x2="1148.50" y2="955.50" stroke-width="1.8" />
<line x1="1340.00" y1="766.00" x2="1340.00" y2="955.50" stroke-width="1.8" />
<line x1="1173.75" y1="811.30" x2="1173.75" y2="890.00" stroke-width="1.8" />
<line x1="1314.70" y1="811.30" x2="1314.70" y2="890.00" stroke-width="1.8" />
<line x1="1148.50" y1="773.20" x2="1340.00" y2="773.20" stroke-width="1.8" />
<path d="M1148.50,773.20 L1171.00,770.00 L1171.00,776.40 Z" fill="#000" stroke="none"/>
<path d="M1340.00,773.20 L1317.50,776.40 L1317.50,770.00 Z" fill="#000" stroke="none"/>
<text transform="translate(1208.70,765.60) scale(0.9,1)" x="5.03 22.85 35.23 55.38 72.90" y="0" font-size="31" text-anchor="middle" fill="#000" style="stroke-width:0.35px">12.50</text>
<line x1="1173.75" y1="819.40" x2="1314.70" y2="819.40" stroke-width="1.8" />
<path d="M1173.75,819.40 L1196.25,816.20 L1196.25,822.60 Z" fill="#000" stroke="none"/>
<path d="M1314.70,819.40 L1292.20,822.60 L1292.20,816.20 Z" fill="#000" stroke="none"/>
<text transform="translate(1215.60,810.70) scale(0.9,1)" x="6.75 19.17 39.79 56.84" y="0" font-size="31" text-anchor="middle" fill="#000" style="stroke-width:0.35px">9.20</text>
<line x1="1223.00" y1="1101.50" x2="1223.00" y2="1158.30" stroke-width="1.8" />
<line x1="1235.00" y1="1132.00" x2="1235.00" y2="1158.30" stroke-width="1.8" />
<line x1="1176.30" y1="1150.20" x2="1403.20" y2="1150.20" stroke-width="1.8" />
<path d="M1223.00,1150.20 L1200.50,1153.40 L1200.50,1147.00 Z" fill="#000" stroke="none"/>
<path d="M1235.00,1150.20 L1257.50,1147.00 L1257.50,1153.40 Z" fill="#000" stroke="none"/>
<text transform="translate(1337.00,1141.60) scale(0.9,1)" x="6.57 19.12 38.99 56.79" y="0" font-size="31" text-anchor="middle" fill="#000" style="stroke-width:0.35px">0.78</text>
<line x1="1163.00" y1="1016.00" x2="1163.00" y2="1205.40" stroke-width="1.8" />
<line x1="1325.40" y1="1016.00" x2="1325.40" y2="1205.40" stroke-width="1.8" />
<line x1="1163.00" y1="1197.20" x2="1325.40" y2="1197.20" stroke-width="1.8" />
<path d="M1163.00,1197.20 L1185.50,1194.00 L1185.50,1200.40 Z" fill="#000" stroke="none"/>
<path d="M1325.40,1197.20 L1302.90,1200.40 L1302.90,1194.00 Z" fill="#000" stroke="none"/>
<text transform="translate(1208.70,1188.30) scale(0.9,1)" x="5.03 22.68 35.23 55.47 72.90" y="0" font-size="31" text-anchor="middle" fill="#000" style="stroke-width:0.35px">10.60</text>
</g>
</svg></body></html>
